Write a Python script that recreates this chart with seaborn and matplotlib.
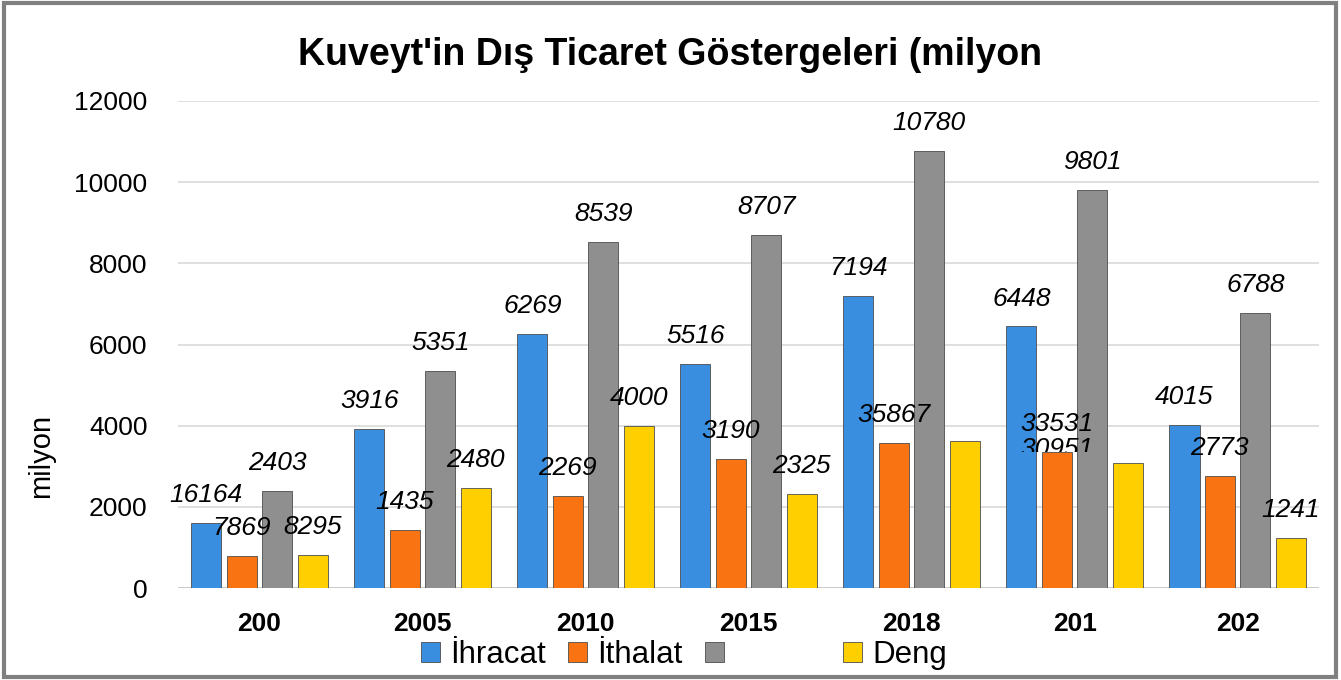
import numpy as np
import pandas as pd
import seaborn as sns
import matplotlib.pyplot as plt
from matplotlib.patches import Patch, Rectangle

# categories (as printed on the axis)
years = ["200", "2005", "2010", "2015", "2018", "201", "202"]
series = ["İhracat", "İthalat", "", "Deng"]

# bar heights
ihracat = [1616, 3916, 6269, 5516, 7194, 6448, 4015]
ithalat = [787, 1435, 2269, 3190, 3587, 3353, 2773]
seri3 = [2403, 5351, 8539, 8707, 10780, 9801, 6788]
deng = [830, 2480, 4000, 2325, 3620, 3095, 1241]

# data labels as they appear in the picture
ihracat_lbl = ["16164", "3916", "6269", "5516", "7194", "6448", "4015"]
ithalat_lbl = ["7869", "1435", "2269", "3190", "35867", "33531", "2773"]
seri3_lbl = ["2403", "5351", "8539", "8707", "10780", "9801", "6788"]
deng_lbl = ["8295", "2480", "4000", "2325", "", "", "1241"]
hidden_lbl = "30951"  # half-covered label near the 201 group

colors = ["#3a8ee0", "#f97312", "#8f8f8f", "#ffcf00"]

df = pd.DataFrame({
    "yil": years * 4,
    "seri": np.repeat(series, len(years)),
    "deger": ihracat + ithalat + seri3 + deng,
})

sns.set_style("white")
plt.rcParams["font.family"] = ["Liberation Sans", "DejaVu Sans"]
plt.rcParams["text.color"] = "black"
plt.rcParams["xtick.color"] = "black"
plt.rcParams["ytick.color"] = "black"

fig = plt.figure(figsize=(13.41, 6.8), dpi=100)
ax = fig.add_axes([0.1327, 0.135, 0.851, 0.7165])

sns.barplot(data=df, x="yil", y="deger", hue="seri", order=years,
            hue_order=series, palette=colors, saturation=1,
            width=0.87, gap=0.15, edgecolor="#4d4d4d", linewidth=0.6,
            legend=False, ax=ax, zorder=3)

ax.set_ylim(0, 12000)
ax.set_xlim(-0.5, len(years) - 0.5)
ax.set_yticks(range(0, 12001, 2000))
ax.yaxis.grid(True, color="#d9d9d9", linewidth=1.2)
ax.set_axisbelow(True)
for s in ax.spines.values():
    s.set_visible(False)
ax.axhline(0, color="#c8c8c8", linewidth=2, zorder=2)
ax.set_xlabel("")
ax.set_ylabel("")
ax.tick_params(axis="y", labelsize=19, pad=22, length=0, labelcolor="black")
ax.tick_params(axis="x", labelsize=19, pad=17, length=0, labelcolor="black")
for t in ax.get_xticklabels():
    t.set_fontweight("bold")

all_lbl = [ihracat_lbl, ithalat_lbl, seri3_lbl, deng_lbl]
for cont, lbls in zip(ax.containers, all_lbl):
    for bar, txt in zip(cont, lbls):
        if not txt:
            continue
        ax.annotate(txt, (bar.get_x() + bar.get_width() / 2, bar.get_height()),
                    xytext=(0, 20), textcoords="offset points",
                    ha="center", va="center", fontsize=19, style="italic",
                    color="black", zorder=5)

# the half-hidden label sits over the orange bar of "201", cut at its top
b = ax.containers[1][5]
t = ax.text(b.get_x() + b.get_width() / 2, b.get_height() + 80, hidden_lbl,
            ha="center", va="center", fontsize=19, style="italic", zorder=5,
            color="black", clip_on=True)
clip = Rectangle((b.get_x() - 1, b.get_height()), 2.5, 5000,
                 transform=ax.transData)
t.set_clip_path(clip)

fig.text(0.5, 0.919, "Kuveyt'in Dış Ticaret Göstergeleri (milyon",
         ha="center", va="center", fontsize=27, fontweight="bold",
         color="black")
fig.text(0.031, 0.33, "milyon", rotation=90, ha="center", va="center",
         fontsize=21, color="black")

handles = [Patch(facecolor=c, edgecolor="#4d4d4d", linewidth=0.6) for c in colors]
names = ["İhracat", "İthalat", " " * 10, "Deng"]
fig.legend(handles, names, loc="center", bbox_to_anchor=(0.51, 0.037),
           ncol=4, frameon=False, fontsize=22.5, handlelength=0.6,
           handleheight=0.6, handletextpad=0.32, columnspacing=0.73,
           borderpad=0, borderaxespad=0, labelcolor="black")

fig.patches.append(Rectangle((0.003, 0.005), 0.993, 0.99,
                             transform=fig.transFigure, fill=False,
                             edgecolor="#808080", linewidth=3))

fig.savefig("out.png", dpi=100)
